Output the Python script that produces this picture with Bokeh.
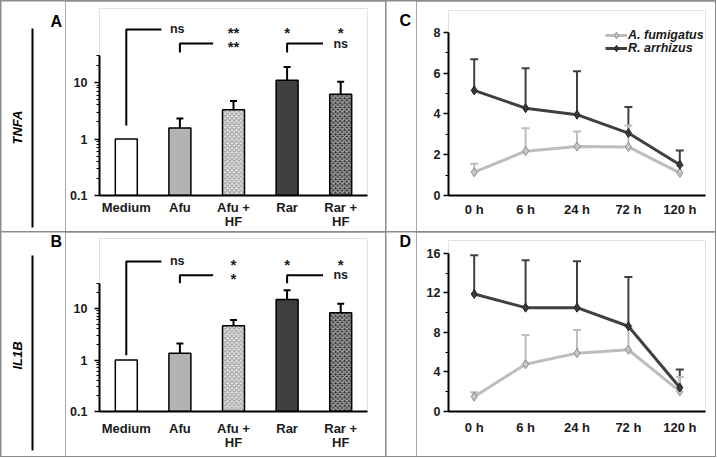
import math
from bokeh.plotting import figure
from bokeh.layouts import row, column
from bokeh.models import (Range1d, FixedTicker, NumeralTickFormatter, Whisker, TeeHead,
                          ColumnDataSource, Legend, LegendItem, SingleIntervalTicker)
from bokeh.core.properties import value
from bokeh.embed import file_html
from bokeh.resources import INLINE

FONT = "Liberation Sans"

# ---------------- data ----------------
groups = ["Medium", "Afu", "Afu +\nHF", "Rar", "Rar +\nHF"]
tnfa_mean = [1.0, 1.57, 3.3, 11.0, 6.2]
tnfa_upper = [1.0, 2.3, 4.7, 18.8, 10.3]
il1b_mean = [1.0, 1.35, 4.6, 15.0, 8.3]
il1b_upper = [1.0, 2.1, 6.0, 22.5, 12.4]
tnfa_sig_row1 = ["ns", "**", "*", "*"]
tnfa_sig_row2 = ["**", "ns"]
il1b_sig_row1 = ["ns", "*", "*", "*"]
il1b_sig_row2 = ["*", "ns"]

times = ["0 h", "6 h", "24 h", "72 h", "120 h"]
tnfa_afu = [1.14, 2.17, 2.40, 2.38, 1.11]
tnfa_afu_upper = [1.55, 3.30, 3.14, 3.43, 1.45]
tnfa_rar = [5.15, 4.28, 3.96, 3.06, 1.51]
tnfa_rar_upper = [6.67, 6.24, 6.09, 4.33, 2.20]
il1b_afu = [1.50, 4.78, 5.90, 6.24, 2.03]
il1b_afu_upper = [1.95, 7.74, 8.24, 8.60, 3.50]
il1b_rar = [11.88, 10.50, 10.50, 8.62, 2.42]
il1b_rar_upper = [15.80, 15.30, 15.20, 13.60, 4.25]

# ---------------- styles ----------------
bar_fills = ["#ffffff", "#b3b3b3", "#e2e2e2", "#404040", "#3a3a3a"]
bar_hatch = [" ", " ", "x", " ", "x"]
bar_hatch_color = ["#000000", "#000000", "#989898", "#000000", "#c4c4c4"]
AFU_C = "#bdbdbd"
RAR_C = "#404040"
TXT = "#1a1a1a"


def base_fig(w, h, **kw):
    return figure(width=w, height=h, output_backend="svg", toolbar_location=None,
                  outline_line_color=None, frame_align=False, **kw)


def strip(w, h, letter, letter_xy, gene=None, gene_xy=None, line=None):
    """Decoration strip: panel letter, gene label and vertical rule (pixel-like coords)."""
    s = base_fig(w, h, x_range=Range1d(0, w), y_range=Range1d(h, 0),
                 x_axis_location=None, y_axis_location=None, min_border=0)
    s.grid.visible = False
    s.text(x=[letter_xy[0]], y=[letter_xy[1]], text=[letter], text_font=value(FONT),
           text_font_style="bold", text_font_size="16px", text_align="left",
           text_baseline="middle", text_color="black")
    if gene:
        s.text(x=[gene_xy[0]], y=[gene_xy[1]], text=[gene], angle=math.pi / 2,
               text_font=value(FONT), text_font_style="bold italic", text_font_size="13px",
               text_align="center", text_baseline="middle", text_color="black")
        s.segment(x0=[line[0]], y0=[line[1]], x1=[line[0]], y1=[line[2]],
                  line_color="black", line_width=2)
    return s


def style_axes(p, xstandoff):
    for ax in p.axis:
        ax.axis_line_width = 2
        ax.axis_line_color = "black"
        ax.major_label_text_font = FONT
        ax.major_label_text_font_style = "bold"
        ax.major_label_text_color = TXT
    p.xaxis.major_tick_line_color = None
    p.xaxis.minor_tick_line_color = None
    p.xaxis.major_tick_out = 0
    p.xaxis.major_tick_in = 0
    p.xaxis.minor_tick_out = 0
    p.xaxis.minor_tick_in = 0
    p.xaxis.major_label_standoff = xstandoff
    p.xaxis.major_label_text_font_size = "13px"
    p.xaxis.major_label_text_line_height = 0.95
    p.yaxis.major_label_text_font_size = "12.5px"
    p.yaxis.major_tick_in = 0
    p.yaxis.major_tick_out = 5
    p.yaxis.minor_tick_in = 0
    p.yaxis.minor_tick_out = 3
    p.yaxis.major_tick_line_width = 1.5
    p.yaxis.minor_tick_line_width = 1.2


def bar_panel(means, uppers, row1, row2, h, mb_top, mb_bottom, decade_px, lv, xstandoff):
    frame_h = h - mb_top - mb_bottom
    ytop = 10 ** (-1 + frame_h / decade_px)
    p = base_fig(320, h, x_range=Range1d(-0.5, 4.5), y_range=Range1d(0.1, ytop),
                 y_axis_type="log", min_border_left=34, min_border_right=18,
                 min_border_top=mb_top, min_border_bottom=mb_bottom)
    p.grid.visible = False
    xs = list(range(len(groups)))
    src = ColumnDataSource(dict(x=xs, top=means, fill=bar_fills, hatch=bar_hatch, hcol=bar_hatch_color))
    p.vbar(x="x", top="top", bottom=0.1, width=0.41, source=src, fill_color="fill",
           line_color="black", line_width=1.5, hatch_pattern="hatch", hatch_color="hcol",
           hatch_scale=4.5, hatch_weight=1)
    wsrc = ColumnDataSource(dict(x=xs[1:], lower=means[1:], upper=uppers[1:]))
    p.add_layout(Whisker(source=wsrc, base="x", lower="lower", upper="upper", dimension="height",
                         line_color="black", line_width=2, lower_head=None,
                         upper_head=TeeHead(size=7, line_color="black", line_width=2)))
    # significance brackets
    p.multi_line(xs=[[0, 0, 0.655], [1, 1, 1.62], [3, 3, 3.67]],
                 ys=[[lv["med"], lv["r1"], lv["r1"]], [lv["short"], lv["r2"], lv["r2"]],
                     [lv["short"], lv["r2"], lv["r2"]]],
                 line_color="black", line_width=2)
    tx = [0.95, 2, 3, 4] + [2, 4]
    ty = [lv["r1"]] * 4 + [lv["r2"]] * 2
    tt = row1 + row2
    sizes = ["15px" if "*" in t else "12.5px" for t in tt]
    offs = [3 if "*" in t else 0 for t in tt]
    tsrc = ColumnDataSource(dict(x=tx, y=ty, t=tt, s=sizes, o=offs))
    p.text(x="x", y="y", text="t", source=tsrc, text_font=value(FONT), text_font_style="bold",
           text_font_size="s", y_offset="o", text_align="center", text_baseline="middle",
           text_color=TXT)
    style_axes(p, xstandoff)
    p.xaxis.ticker = FixedTicker(ticks=xs)
    p.xaxis.major_label_overrides = {i: g for i, g in enumerate(groups)}
    minors = [m * d for d in (0.1, 1, 10) for m in range(2, 10) if m * d <= 30]
    p.yaxis.ticker = FixedTicker(ticks=[0.1, 1, 10], minor_ticks=minors)
    p.yaxis.formatter = NumeralTickFormatter(format="0.[0]")
    p.yaxis.bounds = (0.1, 30)
    p.yaxis.major_label_standoff = 7
    return p


def line_panel(afu, afu_up, rar, rar_up, h, mb_top, mb_bottom, ymax, px_per_unit, step, legend, xstandoff):
    frame_h = h - mb_top - mb_bottom
    p = base_fig(299, h, x_range=Range1d(-0.5, 4.5), y_range=Range1d(0, frame_h / px_per_unit),
                 min_border_left=32, min_border_right=10, min_border_top=mb_top,
                 min_border_bottom=mb_bottom)
    p.grid.visible = False
    xs = list(range(len(times)))
    asrc = ColumnDataSource(dict(x=xs, y=afu, upper=afu_up))
    rsrc = ColumnDataSource(dict(x=xs, y=rar, upper=rar_up))
    p.add_layout(Whisker(source=rsrc, base="x", lower="y", upper="upper", dimension="height",
                         line_color=RAR_C, line_width=2, lower_head=None,
                         upper_head=TeeHead(size=8, line_color=RAR_C, line_width=2)))
    p.add_layout(Whisker(source=asrc, base="x", lower="y", upper="upper", dimension="height",
                         line_color=AFU_C, line_width=2, lower_head=None,
                         upper_head=TeeHead(size=8, line_color=AFU_C, line_width=2)))
    al = p.line("x", "y", source=asrc, line_color=AFU_C, line_width=3)
    am = p.scatter("x", "y", source=asrc, marker="diamond", size=9, fill_color="#c8c8c8",
                   line_color="#8a8a8a", line_width=1)
    rl = p.line("x", "y", source=rsrc, line_color=RAR_C, line_width=3)
    rm = p.scatter("x", "y", source=rsrc, marker="diamond", size=9, fill_color="#3a3a3a",
                   line_color="#222222", line_width=1)
    style_axes(p, xstandoff)
    p.xaxis.ticker = FixedTicker(ticks=xs)
    p.xaxis.major_label_overrides = {i: t for i, t in enumerate(times)}
    p.yaxis.ticker = SingleIntervalTicker(interval=step, num_minor_ticks=2)
    p.yaxis.bounds = (0, ymax)
    p.yaxis.major_label_standoff = 3
    if legend:
        for lab, rends, yc in [("A. fumigatus", [al, am], frame_h - 24.5),
                               ("R. arrhizus", [rl, rm], frame_h - 37.5)]:
            lg = Legend(items=[LegendItem(label=lab, renderers=rends)], location=(157, yc - 8),
                        border_line_color=None, background_fill_alpha=0, padding=0, margin=0,
                        spacing=0, glyph_width=22, glyph_height=16, label_height=16,
                        label_standoff=1, label_text_font=FONT,
                        label_text_font_style="bold italic", label_text_font_size="12.5px",
                        label_text_color=TXT)
            p.add_layout(lg)
    return p


lvA = dict(r1=87, r2=49, short=34, med=1.74)
lvB = dict(r1=82, r2=44, short=31, med=1.24)

# top row: height 230, bottom row: height 224
stripA = strip(64, 230, "A", (49, 19.5), "TNFA", (16, 126), (31, 27, 226))
pA = bar_panel(tnfa_mean, tnfa_upper, tnfa_sig_row1, tnfa_sig_row2, 230, 7, 36, 56.5, lvA, 4)
stripB = strip(64, 224, "B", (49, 9), "IL1B", (16, 123), (31, 23, 218))
pB = bar_panel(il1b_mean, il1b_upper, il1b_sig_row1, il1b_sig_row2, 224, 6, 45, 51.5, lvB, 9)
stripC = strip(30, 230, "C", (13, 19))
pC = line_panel(tnfa_afu, tnfa_afu_upper, tnfa_rar, tnfa_rar_upper, 230, 9, 36, 8, 20.41, 2, True, 6)
stripD = strip(30, 224, "D", (13, 8.5))
pD = line_panel(il1b_afu, il1b_afu_upper, il1b_rar, il1b_rar_upper, 224, 8, 45, 16, 9.89, 4, False, 8)

left = column(row(stripA, pA, spacing=0), row(stripB, pB, spacing=0), spacing=1)
right = column(row(stripC, pC, spacing=0), row(stripD, pD, spacing=0), spacing=1)
page = row(left, right, spacing=1,
           styles={"background-color": "#8c8c8c", "padding": "1px"})

open("out.html", "w").write(file_html(page, INLINE))
